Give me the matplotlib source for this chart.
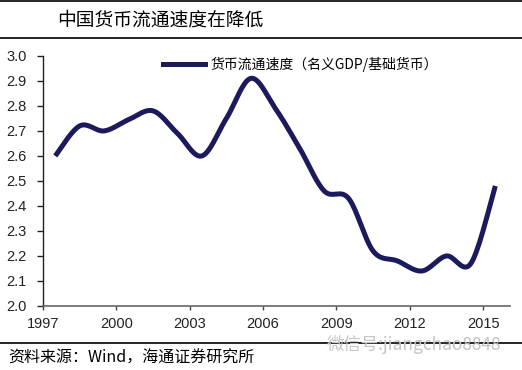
import numpy as np
import matplotlib

matplotlib.use('Agg')
import matplotlib.pyplot as plt
from matplotlib.lines import Line2D

plt.rcParams['font.family'] = ['Noto Sans CJK SC', 'DejaVu Sans']

# 数据（从图中读取，每年一个点，位于年中）
years = list(range(1997, 2016))
velocity = [2.60, 2.72, 2.70, 2.745, 2.78, 2.69, 2.60, 2.75, 2.91, 2.79,
            2.63, 2.46, 2.43, 2.22, 2.18, 2.14, 2.20, 2.17, 2.48]
tick_years = [1997, 2000, 2003, 2006, 2009, 2012, 2015]
yticks = [2.0, 2.1, 2.2, 2.3, 2.4, 2.5, 2.6, 2.7, 2.8, 2.9, 3.0]

title = '中国货币流通速度在降低'
series_label = '货币流通速度（名义GDP/基础货币）'
source = '资料来源：Wind，海通证券研究所'
watermark = '微信号:jiangchao8848'


def smooth_line(x, y, n=20):
    """Excel 风格的平滑曲线（Catmull-Rom）"""
    x = np.asarray(x, float)
    y = np.asarray(y, float)
    px = np.concatenate([[x[0]], x, [x[-1]]])
    py = np.concatenate([[y[0]], y, [y[-1]]])
    xs, ys = [], []
    t = np.linspace(0, 1, n)
    for i in range(1, len(px) - 2):
        for arr, out in ((px, xs), (py, ys)):
            p0, p1, p2, p3 = arr[i - 1], arr[i], arr[i + 1], arr[i + 2]
            c1 = p1 + (p2 - p0) / 6
            c2 = p2 - (p3 - p1) / 6
            b = ((1 - t) ** 3 * p1 + 3 * (1 - t) ** 2 * t * c1
                 + 3 * (1 - t) * t ** 2 * c2 + t ** 3 * p2)
            out.extend(b)
    return np.array(xs), np.array(ys)


fig = plt.figure(figsize=(5.22, 3.70), dpi=100)
ax = fig.add_axes([0.0824, 0.173, 0.8946, 0.676])

x_mid = [yr + 0.5 for yr in years]
sx, sy = smooth_line(x_mid, velocity)
line_color = '#1b1a5c'
ax.plot(sx, sy, color=line_color, lw=3.6, solid_capstyle='butt')

ax.set_xlim(1997, 2016.1)
ax.set_ylim(2.0, 3.0)
ax.set_xticks(tick_years)
ax.set_xticklabels([str(t) for t in tick_years], family='Liberation Sans', fontsize=10.5)
ax.set_yticks(yticks)
ax.set_yticklabels(['%.1f' % v for v in yticks], family='Liberation Sans', fontsize=10.5)
ax.tick_params(axis='x', direction='out', length=3, width=1, colors='#444444', pad=5)
ax.tick_params(axis='y', direction='out', length=4, width=1, colors='#222222', pad=8)
for s in ['top', 'right']:
    ax.spines[s].set_visible(False)
ax.spines['left'].set_color('#222222')
ax.spines['bottom'].set_color('#666666')
ax.spines['left'].set_linewidth(1)
ax.spines['bottom'].set_linewidth(1.2)
for lbl in ax.get_xticklabels() + ax.get_yticklabels():
    lbl.set_color('#222222')

handle = Line2D([], [], color=line_color, lw=3.6)
ax.legend([handle], [series_label], loc='center left',
          bbox_to_anchor=(0.312, 0.827), bbox_transform=fig.transFigure,
          frameon=False, fontsize=10, handlelength=3.0, handletextpad=0.4,
          borderpad=0, borderaxespad=0)

# 标题和框线
fig.text(0.109, 0.945, title, fontsize=13.5, va='center', ha='left')
fig.add_artist(Line2D([0, 1], [0.997, 0.997], color='black', lw=1.2, transform=fig.transFigure))
fig.add_artist(Line2D([0, 1], [0.897, 0.897], color='black', lw=1.2, transform=fig.transFigure))
fig.add_artist(Line2D([0, 1], [0.073, 0.073], color='black', lw=1.2, transform=fig.transFigure))

fig.text(0.015, 0.032, source, fontsize=11.5, va='center', ha='left')
fig.text(0.625, 0.068, watermark, fontsize=12.5, va='center', ha='left',
         color='#c4c4c4', family=['Noto Sans CJK SC', 'DejaVu Sans'])

fig.savefig('out.png', dpi=100)
